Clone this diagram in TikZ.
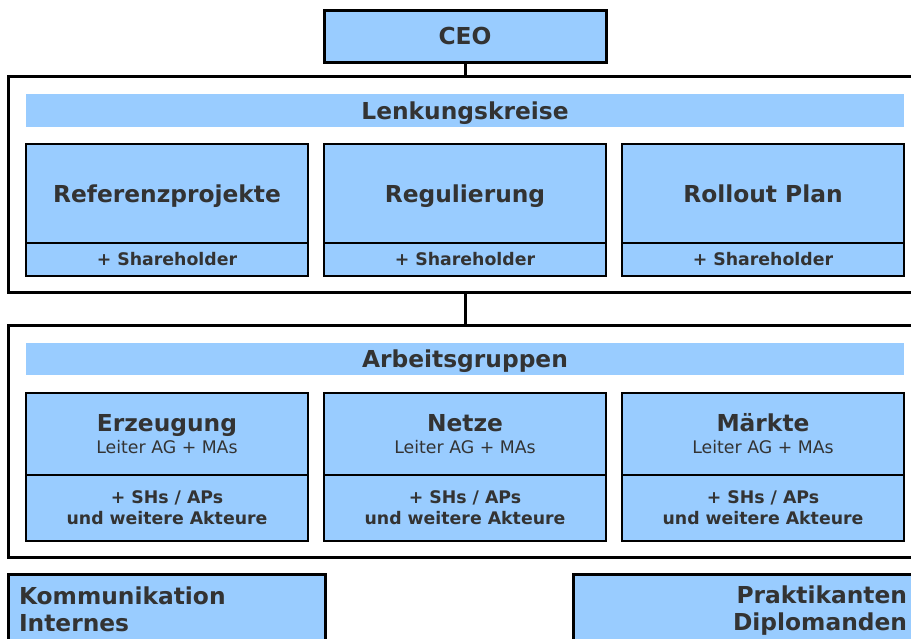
\documentclass[tikz,border=0pt]{standalone}
\usepackage{fontspec}
\setmainfont{DejaVu Sans}
\usepackage{xcolor}
\usetikzlibrary{calc}

\definecolor{boxblue}{HTML}{99CCFF}
\definecolor{textgray}{HTML}{333333}

\tikzset{
    frame/.style={draw, line width=2.25pt, fill=white, inner sep=0pt, minimum width=687.75pt},
    box/.style={draw, line width=1.1pt, fill=boxblue, inner sep=0pt, text=textgray, align=center, minimum width=211.5pt},
    titlebox/.style={box, minimum height=74.25pt, text height=17pt, text depth=4.2pt, font=\bfseries\fontsize{17.5}{21}\selectfont},
    shbox/.style={box, minimum height=24.75pt, font=\bfseries\fontsize{13}{15.75}\selectfont},
    groupbox/.style={box, minimum height=61.5pt, font=\fontsize{13}{16.5}\selectfont},
    actbox/.style={box, minimum height=49.5pt, font=\bfseries\fontsize{13}{15.75}\selectfont},
    banner/.style={fill=boxblue, inner sep=0pt, text=textgray, minimum width=658.5pt, text depth=0pt, font=\bfseries\fontsize{17.5}{21}\selectfont},
    bigbox/.style={draw, line width=2.25pt, fill=boxblue, text=textgray, inner ysep=0pt, font=\bfseries\fontsize{17.5}{20.25}\selectfont},
    link/.style={line width=2.25pt},
}

\begin{document}
\begin{tikzpicture}[x=0.75pt, y=-0.75pt]
    \clip (0,0) rectangle (911,639);

    % CEO
    \node[bigbox, minimum width=211.5pt, minimum height=39pt] (ceo) at (465,36) {CEO};

    % Lenkungskreise
    \node[frame, minimum height=162pt] (lenk) at (466.5,184) {};
    \node[banner, minimum height=24.75pt] (lenkbar) at (465,110.5) {Lenkungskreise};
    \node[titlebox] (ref) at (167,193.5) {Referenzprojekte};
    \node[titlebox] (reg) at (465,193.5) {Regulierung};
    \node[titlebox] (roll) at (763,193.5) {Rollout Plan};
    \node[shbox] (refsh) at (167,259.5) {+ Shareholder};
    \node[shbox] (regsh) at (465,259.5) {+ Shareholder};
    \node[shbox] (rollsh) at (763,259.5) {+ Shareholder};

    % Arbeitsgruppen
    \node[frame, minimum height=174pt] (arb) at (466.5,441) {};
    \node[banner, minimum height=24pt] (arbbar) at (465,359) {Arbeitsgruppen};
    \node[groupbox] (erz) at (167,434) {{\bfseries\fontsize{17.5}{16.5}\selectfont Erzeugung}\\Leiter AG + MAs};
    \node[groupbox] (netz) at (465,434) {{\bfseries\fontsize{17.5}{16.5}\selectfont Netze}\\Leiter AG + MAs};
    \node[groupbox] (markt) at (763,434) {{\bfseries\fontsize{17.5}{16.5}\selectfont Märkte}\\Leiter AG + MAs};
    \node[actbox] (erzsh) at (167,508) {+ SHs / APs\\und weitere Akteure};
    \node[actbox] (netzsh) at (465,508) {+ SHs / APs\\und weitere Akteure};
    \node[actbox] (marktsh) at (763,508) {+ SHs / APs\\und weitere Akteure};

    % unten
    \node[bigbox, align=left, inner xsep=8.25pt, text width=221.25pt, minimum height=52.5pt] (komm) at (166.5,609) {Kommunikation\\Internes};
    \node[bigbox, align=right, inner xsep=13.5pt, text width=237pt, minimum height=55.5pt] (prakt) at (749,611) {Praktikanten\\Diplomanden};

    % Verbindungen
    \draw[link] (ceo.south) -- (ceo.south |- lenk.north);
    \draw[link] (lenk.south -| ceo.south) -- (arb.north -| ceo.south);
\end{tikzpicture}
\end{document}
